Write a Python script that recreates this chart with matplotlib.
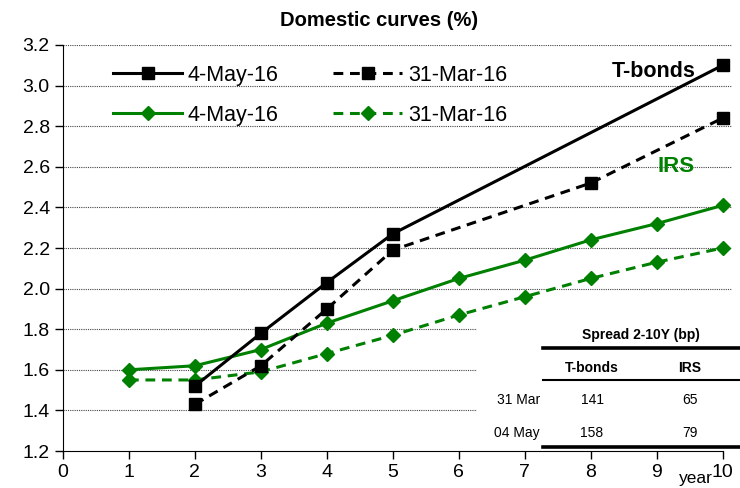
import numpy as np
import matplotlib.pyplot as plt
from matplotlib.patches import Rectangle

plt.rcParams['font.family'] = ['Liberation Sans', 'DejaVu Sans']

# T-bond yields (%), by maturity in years
tb_x_may = [2, 3, 4, 5, 10]
tb_may = [1.52, 1.78, 2.03, 2.27, 3.10]
tb_x_mar = [2, 3, 4, 5, 8, 10]
tb_mar = [1.43, 1.62, 1.90, 2.19, 2.52, 2.84]

# IRS rates (%)
irs_x = [1, 2, 3, 4, 5, 6, 7, 8, 9, 10]
irs_may = [1.60, 1.62, 1.70, 1.83, 1.94, 2.05, 2.14, 2.24, 2.32, 2.41]
irs_mar = [1.55, 1.55, 1.59, 1.68, 1.77, 1.87, 1.96, 2.05, 2.13, 2.20]

# spread table
spread_cols = ['T-bonds', 'IRS']
spread_rows = ['31 Mar', '04 May']
spread_vals = [[141, 65], [158, 79]]

GREEN = '#008000'
dash = (0, (3.2, 2.2))

fig = plt.figure(figsize=(7.4, 4.88), dpi=100)
ax = fig.add_axes([0.0851, 0.0758, 0.904, 0.832])

ax.set_xlim(0, 10.14)
ax.set_ylim(1.2, 3.2)

for y in np.arange(1.4, 3.21, 0.2):
    ax.axhline(y, color='#444444', lw=0.8, ls=(0, (1, 1)), zorder=0)

l1, = ax.plot(tb_x_may, tb_may, color='black', lw=2.2, marker='s', ms=8.5,
              label='4-May-16', clip_on=False, zorder=4)
l2, = ax.plot(tb_x_mar, tb_mar, color='black', lw=2.2, ls=dash, marker='s', ms=8.5,
              label='31-Mar-16', clip_on=False, zorder=4)
l3, = ax.plot(irs_x, irs_may, color=GREEN, lw=2.2, marker='D', ms=7,
              label='4-May-16', clip_on=False, zorder=3)
l4, = ax.plot(irs_x, irs_mar, color=GREEN, lw=2.2, ls=dash, marker='D', ms=7,
              label='31-Mar-16', clip_on=False, zorder=3)

ax.legend(handles=[l1, l3, l2, l4], ncol=2, frameon=False, fontsize=15.5,
          loc='upper left', bbox_to_anchor=(0.062, 0.973), handlelength=3.2,
          handletextpad=0.28, columnspacing=2.53, labelspacing=0.9,
          borderaxespad=0)

ax.text(8.95, 3.067, 'T-bonds', fontsize=15.5, fontweight='bold', ha='center', va='center')
ax.text(9.3, 2.60, 'IRS', fontsize=16, fontweight='bold', color=GREEN,
        ha='center', va='center')

fig.text(379 / 740, 1 - 20 / 488, 'Domestic curves (%)', fontsize=14.5,
         fontweight='bold', ha='center', va='center')

for s in ['top', 'right']:
    ax.spines[s].set_visible(False)
ax.spines['bottom'].set_bounds(0, 10)
ax.set_xticks(range(11))
ax.set_yticks(np.arange(1.2, 3.21, 0.2))
ax.set_yticklabels([f'{v:.1f}' for v in np.arange(1.2, 3.21, 0.2)])
ax.tick_params(direction='out', length=6, labelsize=14, width=1)
ax.tick_params(axis='x', pad=3)

# spread table on a white panel
tf = fig.transFigure
def fx(px):
    return px / 740
def fy(py):
    return 1 - py / 488

fig.text(fx(713), fy(478), 'year', fontsize=12.5, ha='right', va='center')

fig.patches.append(Rectangle((fx(477), fy(450)), fx(740) - fx(477), fy(310) - fy(450),
                             transform=tf, facecolor='white', edgecolor='none', zorder=5))
narrow = ['Liberation Sans Narrow', 'Liberation Sans']
fig.text(fx(641), fy(335), 'Spread 2-10Y (bp)', fontsize=10, fontweight='bold',
         family=narrow, ha='center', va='center', zorder=6)
fig.add_artist(plt.Line2D([fx(543), fx(740)], [fy(348), fy(348)], transform=tf,
                          color='black', lw=2.6, zorder=6))
col_x = [592, 690]
for cx, name in zip(col_x, spread_cols):
    fig.text(fx(cx), fy(368), name, fontsize=10, fontweight='bold', family=narrow,
             ha='center', va='center', zorder=6)
fig.add_artist(plt.Line2D([fx(543), fx(740)], [fy(380), fy(380)], transform=tf,
                          color='black', lw=1.5, zorder=6))
for ry, rname, vals in zip([400, 433], spread_rows, spread_vals):
    fig.text(fx(540), fy(ry), rname, fontsize=10, family=narrow,
             ha='right', va='center', zorder=6)
    for cx, v in zip(col_x, vals):
        fig.text(fx(cx), fy(ry), str(v), fontsize=10, family=narrow,
                 ha='center', va='center', zorder=6)
fig.add_artist(plt.Line2D([fx(543), fx(740)], [fy(447), fy(447)], transform=tf,
                          color='black', lw=2.6, zorder=6))

fig.savefig('out.png', dpi=100)
